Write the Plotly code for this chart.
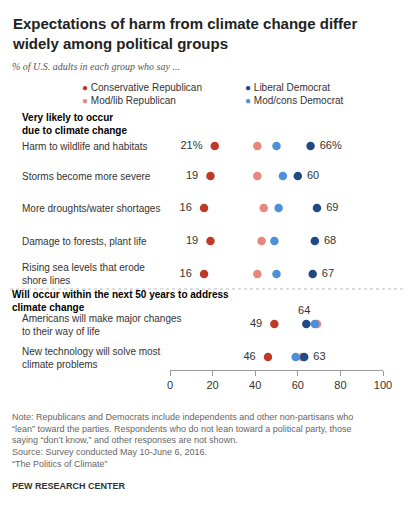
import plotly.graph_objects as go

items = ["Harm to wildlife and habitats", "Storms become more severe", "More droughts/water shortages",
         "Damage to forests, plant life", "Rising sea levels that erode<br>shore lines",
         "Americans will make major changes<br>to their way of life", "New technology will solve most<br>climate problems"]
cons_rep = [21, 19, 16, 19, 16, 49, 46]
mod_lib = [41, 41, 44, 43, 41, 69, 62]
mod_cons = [50, 53, 51, 49, 50, 68, 59]
lib_dem = [66, 60, 69, 68, 67, 64, 63]
cons_lbl = ["21%", "19", "16", "19", "16", "49", "46"]
lib_lbl = ["66%", "60", "69", "68", "67", "64", "63"]

W, H, T, B = 415, 506, 102, 144
PH = H - T - B
rows_px = [146, 176, 208, 241, 274, 324, 357]
ypos = [370 - p for p in rows_px]
label_px = [146, 176, 208, 241, 274, 325, 358]

C_CR, C_ML, C_MC, C_LD = "#BE3A26", "#E8877B", "#4C8FDB", "#1F4A85"
fig = go.Figure()
for vals, c in [(mod_lib, C_ML), (mod_cons, C_MC), (lib_dem, C_LD), (cons_rep, C_CR)]:
    fig.add_trace(go.Scatter(x=vals, y=ypos, mode="markers", marker=dict(size=8.5, color=c), showlegend=False))
fig.add_trace(go.Scatter(x=cons_rep, y=ypos, mode="text", text=[t + "    " for t in cons_lbl],
                         textposition="middle left",
                         textfont=dict(size=11, color="#333"), showlegend=False))
pos = ["middle right"] * 5 + ["top center", "middle right"]
fig.add_trace(go.Scatter(x=[v if i != 5 else v - 1 for i, v in enumerate(lib_dem)],
                         y=[y if i != 5 else y + 7 for i, y in enumerate(ypos)],
                         mode="text", text=["   " + t if i != 5 else t for i, t in enumerate(lib_lbl)],
                         textposition=pos, textfont=dict(size=11, color="#333"), showlegend=False))

def py(p): return (370 - p) / PH
def px(p): return (p - 170) / 213

ann = []
def A(x, y, t, size=11, color="#333", family=None):
    a = dict(x=px(x), y=py(y), xref="paper", yref="paper", text=t, showarrow=False,
             xanchor="left", yanchor="middle", align="left", font=dict(size=size, color=color))
    if family:
        a["font"]["family"] = family
    ann.append(a)
for it, p in zip(items, label_px):
    A(20, p, it, size=10)
A(20, 124, "<b>Very likely to occur<br>due to climate change</b>", size=10, color="#000")
A(10, 301, "<b>Will occur within the next 50 years to address<br>climate change</b>", size=10, color="#000")
A(10, 34, "<b>Expectations of harm from climate change differ<br>widely among political groups</b>", size=15, color="#222")
A(10, 67, "<i>% of U.S. adults in each group who say ...</i>", size=10, color="#555", family="Georgia, serif")
for x, y, c, t in [(80, 87, C_CR, "Conservative Republican"), (243, 87, C_LD, "Liberal Democrat"),
                   (80, 101, C_ML, "Mod/lib Republican"), (243, 101, C_MC, "Mod/cons Democrat")]:
    A(x, y, f"<span style='color:{c}'>●</span> {t}", size=10)
A(10, 440, "Note: Republicans and Democrats include independents and other non-partisans who<br>"
           "“lean” toward the parties. Respondents who do not lean toward a political party, those<br>"
           "saying “don’t know,” and other responses are not shown.<br>"
           "Source: Survey conducted May 10-June 6, 2016.<br>“The Politics of Climate”", size=9, color="#666")
A(10, 486, "<b>PEW RESEARCH CENTER</b>", size=9, color="#333")

fig.update_layout(width=W, height=H, margin=dict(l=162, r=40, t=T, b=B, autoexpand=False),
                  plot_bgcolor="white", paper_bgcolor="white",
                  font=dict(family="Liberation Sans, Arial", color="#333"),
                  annotations=ann,
                  shapes=[dict(type="line", xref="paper", yref="paper", x0=px(10), x1=px(405),
                               y0=py(289), y1=py(289), line=dict(color="#bbb", width=1, dash="dot"))],
                  xaxis=dict(range=[0, 100], tickvals=[0, 20, 40, 60, 80, 100], showgrid=False,
                             showline=True, linecolor="#999", ticks="outside", tickcolor="#999",
                             ticklen=5, tickfont=dict(size=11, color="#333"), zeroline=False, fixedrange=True),
                  yaxis=dict(range=[0, PH], visible=False, fixedrange=True))
fig.write_html("out.html")
